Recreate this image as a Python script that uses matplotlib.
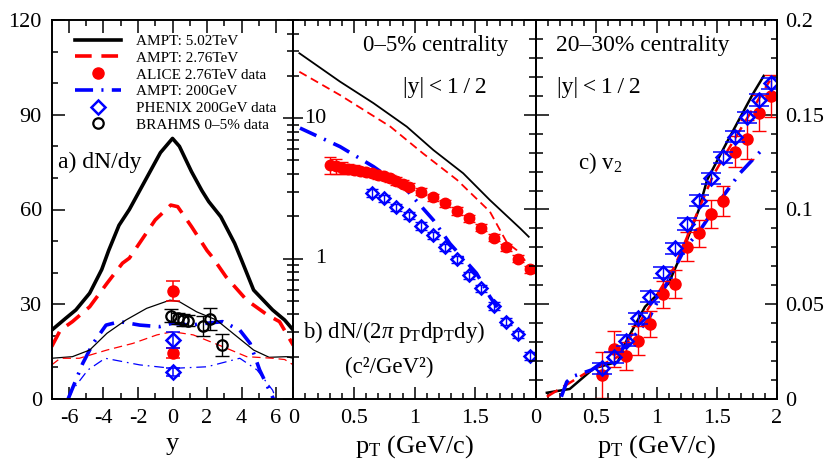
import numpy as np
import matplotlib
matplotlib.use('Agg')
import matplotlib.pyplot as plt
from matplotlib.ticker import MultipleLocator, LogLocator, NullFormatter, FixedLocator
import matplotlib.transforms as mtransforms

plt.rcParams['font.family'] = ['Liberation Serif', 'DejaVu Serif']
plt.rcParams['mathtext.fontset'] = 'custom'
plt.rcParams['mathtext.rm'] = 'Liberation Serif'
plt.rcParams['mathtext.it'] = 'Liberation Serif:italic'
plt.rcParams['lines.scale_dashes'] = False

# ---------------- Panel a: dN/dy vs y ----------------
a_y_502 = [-7, -6.2, -5.6, -4.8, -4.1, -3.7, -3.1, -2.5, -2, -1.5, -0.7, 0, 0.4, 1.1, 1.7, 2.1, 2.8, 3.6, 4, 4.7, 5.8, 6.5, 7]
a_v_502 = [21.8, 25.5, 28.2, 33.5, 41, 47, 55, 60, 65, 70, 78, 82.5, 80, 72, 66, 62.5, 57.7, 49.3, 44, 34.5, 28.2, 25, 21.8]
a_y_276 = [-7, -6.5, -5.8, -4.8, -3.8, -2.9, -2.5, -1, -0.1, 0.3, 1.1, 2, 2.3, 3.1, 4.3, 5.5, 6.2, 7]
a_v_276 = [16.6, 21.8, 24.5, 29.2, 36.6, 43, 44.6, 56.7, 61.4, 60.9, 54.6, 47, 45, 38.7, 31.3, 26.6, 24.5, 17]
a_y_200 = [-6.05, -5.2, -4.6, -3.85, -3.05, -1.9, -0.75, 0, 1, 2.9, 3.9, 4.5, 5.05, 5.85]
a_v_200 = [0, 11.3, 17.6, 23.4, 24.5, 23.4, 22.9, 24, 23.4, 24.5, 21.8, 17.6, 9.2, 0]
a_y_502_thin = [-7, -5.8, -4.8, -3.8, -2.7, -1.5, -0.15, 0.4, 1.4, 2.55, 3.5, 4.7, 5.6, 6.6, 7]
a_v_502_thin = [12.9, 13.4, 15.5, 20.8, 25, 28.7, 31.3, 30.8, 27.6, 25, 20.8, 15.5, 13.2, 13.4, 12.9]
a_y_276_thin = [-7, -6.5, -5.4, -3.8, -2.3, -0.9, 0, 1.2, 2.9, 4.3, 5.8, 6.5, 7]
a_v_276_thin = [10.8, 12.9, 12.9, 15.5, 17.6, 20.3, 21.3, 20.3, 16.6, 13.4, 12.9, 12.5, 10.8]
a_y_200_thin = [-6, -5.8, -4.9, -3.9, -1.9, 0, 2, 3.9, 4.9, 5.8, 6]
a_v_200_thin = [0, 2.8, 9.2, 12.9, 10.8, 9.7, 10.2, 12.9, 9.2, 2.8, 0]
a_alice_y = [0, 0]
a_alice_v = [34.3, 14.5]
a_alice_e = [3.2, 1.5]
a_phenix_y = [0, 0]
a_phenix_v = [18.7, 8.6]
a_phenix_e = [2.6, 1.2]
a_brahms_y = [-0.1, 0.33, 0.62, 0.9, 1.77, 2.2, 2.84]
a_brahms_v = [26.4, 25.5, 25.0, 24.8, 23.1, 25.2, 17.1]
a_brahms_e = [2.0, 1.8, 1.8, 1.8, 3.2, 3.5, 3.5]

# ---------------- Panel b: pT spectra ----------------
b_pt_502 = [0.05, 0.385, 0.66, 0.935, 1.154, 1.40, 1.62, 1.87, 1.94]
b_v_502 = [29, 18.2, 12.8, 8.7, 5.93, 4.05, 2.61, 1.64, 1.43]
b_pt_276 = [0.05, 0.385, 0.80, 1.07, 1.35, 1.62, 1.76, 1.84, 1.95]
b_v_276 = [21.4, 14.6, 8.7, 5.6, 3.63, 2.16, 1.3, 1.15, 0.875]
b_pt_200 = [0.055, 0.385, 0.66, 0.935, 1.154, 1.29, 1.51, 1.62, 1.68]
b_v_200 = [8.5, 6.27, 4.52, 3.08, 1.88, 1.28, 0.785, 0.535, 0.45]
b_alice_pt = [0.30, 0.35, 0.40, 0.45, 0.50, 0.55, 0.60, 0.65, 0.70, 0.75, 0.80, 0.85, 0.90, 0.95,
              1.05, 1.15, 1.25, 1.35, 1.45, 1.55, 1.65, 1.75, 1.85, 1.95]
b_alice_v = [4.65, 4.55, 4.45, 4.35, 4.3, 4.2, 4.12, 4.05, 3.95, 3.85, 3.72, 3.58, 3.42, 3.25,
             3.0, 2.74, 2.48, 2.19, 1.94, 1.66, 1.41, 1.2, 1.0, 0.84]
b_alice_rel = [0.14, 0.12, 0.10, 0.08, 0.07, 0.07, 0.06, 0.06, 0.06, 0.06, 0.06, 0.06, 0.06, 0.06,
               0.06, 0.06, 0.06, 0.06, 0.06, 0.06, 0.06, 0.06, 0.06, 0.06]
b_phenix_pt = [0.65, 0.75, 0.85, 0.95, 1.05, 1.15, 1.25, 1.35, 1.45, 1.55, 1.65, 1.75, 1.85, 1.95]
b_phenix_v = [2.94, 2.69, 2.32, 2.04, 1.71, 1.47, 1.2, 0.99, 0.76, 0.615, 0.46, 0.356, 0.29, 0.203]
b_phenix_rel = 0.06

# ---------------- Panel c: v2 ----------------
c_pt_502 = [0.09, 0.28, 0.48, 0.68, 0.74, 0.905, 1.1, 1.21, 1.35, 1.42, 1.58, 1.80, 1.89]
c_v_502 = [0.0033, 0.0053, 0.0162, 0.0197, 0.0294, 0.0487, 0.061, 0.0769, 0.0997, 0.1156, 0.135, 0.161, 0.1705]
c_pt_276 = [0.09, 0.41, 0.68, 0.905, 1.15, 1.29, 1.47, 1.58, 1.94]
c_v_276 = [0.0012, 0.0136, 0.0223, 0.045, 0.0698, 0.091, 0.118, 0.13, 0.168]
c_pt_200 = [0.21, 0.255, 0.30, 0.46, 0.74, 0.93, 1.1, 1.24, 1.35, 1.53, 1.69, 1.86]
c_v_200 = [0.0012, 0.009, 0.0118, 0.0153, 0.0276, 0.0417, 0.0628, 0.080, 0.088, 0.105, 0.119, 0.1305]
c_alice_pt = [0.55, 0.65, 0.75, 0.85, 0.95, 1.05, 1.15, 1.25, 1.35, 1.45, 1.55, 1.65, 1.75, 1.85, 1.95]
c_alice_v = [0.0127, 0.0262, 0.0227, 0.0308, 0.0396, 0.0552, 0.0607, 0.0804, 0.0874, 0.0976,
             0.1046, 0.1305, 0.137, 0.1507, 0.16]
c_alice_e = [0.012, 0.0095, 0.0075, 0.0075, 0.007, 0.007, 0.0072, 0.0075, 0.007, 0.0075,
             0.008, 0.0083, 0.0104, 0.0095, 0.011]
c_phenix_pt = [0.55, 0.65, 0.75, 0.85, 0.95, 1.05, 1.15, 1.25, 1.35, 1.45, 1.55, 1.65, 1.75, 1.85, 1.95]
c_phenix_v = [0.0162, 0.022, 0.0308, 0.0426, 0.054, 0.0667, 0.0795, 0.0923, 0.1046, 0.1164,
              0.1275, 0.1384, 0.1486, 0.1578, 0.1666]
c_phenix_e = 0.003

# ---------------- Figure ----------------
W, H = 831, 472
fig = plt.figure(figsize=(W / 100, H / 100), dpi=100)

def rect(x0, x1, y0=20, y1=399):
    return [x0 / W, 1 - y1 / H, (x1 - x0) / W, (y1 - y0) / H]

axa = fig.add_axes(rect(51.7, 293.3))
axb = fig.add_axes(rect(293.3, 536))
axc = fig.add_axes(rect(536, 777))
for ax in (axa, axb, axc):
    for s in ax.spines.values():
        s.set_linewidth(1.4)

TICKFS = 16
RED = '#ff0000'
BLUE = '#0000ff'
thick_dash = (0, (12, 7))
thin_dash = (0, (6, 3.5))
thick_dashdot = (0, (13, 6, 1.5, 6))
thin_dashdot = (0, (7, 3.5, 1.2, 3.5))
TS = '\u2009'

# ---- panel a ----
h1, = axa.plot(a_y_502, a_v_502, color='black', lw=2.6, label='AMPT: 5.02TeV')
h2, = axa.plot(a_y_276, a_v_276, color=RED, lw=2.6, ls=thick_dash, label='AMPT: 2.76TeV')
h4, = axa.plot(a_y_200, a_v_200, color=BLUE, lw=2.6, ls=thick_dashdot, label='AMPT: 200GeV')
axa.plot(a_y_502_thin, a_v_502_thin, color='black', lw=0.9)
axa.plot(a_y_276_thin, a_v_276_thin, color=RED, lw=0.9, ls=thin_dash)
axa.plot(a_y_200_thin, a_v_200_thin, color=BLUE, lw=0.9, ls=thin_dashdot)
axa.errorbar(a_alice_y, a_alice_v, yerr=a_alice_e, fmt='none', ecolor=RED, elinewidth=1.1, capsize=5, capthick=1.1)
h3, = axa.plot(a_alice_y, a_alice_v, 'o', color=RED, ms=8, ls='none', label='ALICE 2.76TeV data')
axa.errorbar(a_phenix_y, a_phenix_v, yerr=a_phenix_e, fmt='none', ecolor=BLUE, elinewidth=1.1, capsize=5, capthick=1.1)
h5, = axa.plot(a_phenix_y, a_phenix_v, 'D', mfc='none', mec=BLUE, mew=1.8, ms=7, ls='none', label='PHENIX 200GeV data')
axa.errorbar(a_brahms_y, a_brahms_v, yerr=a_brahms_e, fmt='none', ecolor='black', elinewidth=1.0, capsize=5, capthick=1.0)
h6, = axa.plot(a_brahms_y, a_brahms_v, 'o', mfc='none', mec='black', mew=1.6, ms=7.5, ls='none', label='BRAHMS 0\u20135% data')

axa.set_xlim(-7, 7)
axa.set_ylim(0, 120)
axa.xaxis.set_major_locator(MultipleLocator(2))
axa.xaxis.set_minor_locator(MultipleLocator(1))
axa.yaxis.set_major_locator(MultipleLocator(30))
axa.yaxis.set_minor_locator(MultipleLocator(10))
axa.tick_params(which='both', direction='in', top=True, right=False, labelsize=TICKFS, width=1.1)
axa.tick_params(which='major', length=9)
axa.tick_params(which='minor', length=4.5)
axa.tick_params(axis='y', pad=7)
axa.tick_params(axis='x', pad=7)
axa.xaxis.set_major_formatter(matplotlib.ticker.FuncFormatter(lambda v, p: '%d' % v))
axa.text(0.026, 0.623, 'a) dN/dy', transform=axa.transAxes, fontsize=17, va='center', ha='left')
axa.set_xlabel('y', fontsize=19, labelpad=4)

leg = axa.legend(handles=[h1, h2, h3, h4, h5, h6], loc='upper left', bbox_to_anchor=(0.095, 0.962),
                 frameon=False, fontsize=11, handlelength=3.05, handletextpad=0.95,
                 labelspacing=0.2, borderpad=0, borderaxespad=0, numpoints=1)

# ---- panel b ----
axb.plot(b_pt_502, b_v_502, color='black', lw=1.3)
axb.plot(b_pt_276, b_v_276, color=RED, lw=1.3, ls=thin_dash)
axb.plot(b_pt_200, b_v_200, color=BLUE, lw=2.6, ls=thick_dashdot)
b_alice_err = [v * r for v, r in zip(b_alice_v, b_alice_rel)]
axb.errorbar(b_alice_pt, b_alice_v, yerr=b_alice_err, fmt='none', ecolor=RED, elinewidth=1.0, capsize=4, capthick=1.0)
axb.plot(b_alice_pt, b_alice_v, 'o', color=RED, ms=7.5, ls='none')
b_phenix_err = [v * b_phenix_rel for v in b_phenix_v]
axb.errorbar(b_phenix_pt, b_phenix_v, yerr=b_phenix_err, fmt='none', ecolor=BLUE, elinewidth=1.0, capsize=4, capthick=1.0)
axb.plot(b_phenix_pt, b_phenix_v, 'D', mfc='none', mec=BLUE, mew=1.8, ms=6, ls='none')
axb.set_yscale('log')
axb.set_xlim(0, 2)
axb.set_ylim(0.1, 50)
axb.xaxis.set_major_locator(FixedLocator([0, 0.5, 1, 1.5, 2]))
axb.xaxis.set_minor_locator(MultipleLocator(0.1))
axb.set_xticklabels(['0', '0.5', '1', '1.5', ''])
axb.yaxis.set_major_locator(LogLocator(base=10, numticks=10))
axb.yaxis.set_minor_locator(LogLocator(base=10, subs=np.arange(2, 10), numticks=20))
axb.yaxis.set_major_formatter(NullFormatter())
axb.yaxis.set_minor_formatter(NullFormatter())
axb.tick_params(which='both', axis='x', direction='in', top=True, labelsize=TICKFS, width=1.1, pad=7)
axb.tick_params(which='major', axis='x', length=9)
axb.tick_params(which='minor', axis='x', length=4.5)
axb.tick_params(which='both', axis='y', direction='inout', left=True, right=False, width=1.1)
axb.tick_params(which='major', axis='y', length=14)
axb.tick_params(which='minor', axis='y', length=8)
tb = mtransforms.blended_transform_factory(axb.transAxes, axb.transData)
axb.text(0.045, 10, '10', transform=tb, fontsize=TICKFS, va='center', ha='left')
axb.text(0.09, 1, '1', transform=tb, fontsize=TICKFS, va='center', ha='left')
axb.text(0.287, 0.934, '0\u20135% centrality', transform=axb.transAxes, fontsize=16.5, va='center', ha='left')
axb.text(0.452, 0.823, '|y|' + TS + '<' + TS + '1' + TS + '/' + TS + '2', transform=axb.transAxes,
         fontsize=17, va='center', ha='left')
axb.text(0.04, 0.177, r'b) dN/(2$\pi$ p$_\mathrm{T}$dp$_\mathrm{T}$dy)', transform=axb.transAxes, fontsize=16.5, va='center', ha='left')
axb.text(0.213, 0.082, '(c\u00b2/GeV\u00b2)', transform=axb.transAxes, fontsize=16.5, va='center', ha='left')
axb.set_xlabel(r'p$_\mathrm{T}$ (GeV/c)', fontsize=19, labelpad=4)

# ---- panel c ----
axc.plot(c_pt_502, c_v_502, color='black', lw=1.8)
axc.plot(c_pt_276, c_v_276, color=RED, lw=1.8, ls=(0, (9, 5)))
axc.plot(c_pt_200, c_v_200, color=BLUE, lw=2.6, ls=thick_dashdot)
axc.errorbar(c_alice_pt, c_alice_v, yerr=c_alice_e, fmt='none', ecolor=RED, elinewidth=1.0, capsize=5, capthick=1.0)
axc.plot(c_alice_pt, c_alice_v, 'o', color=RED, ms=8, ls='none')
axc.errorbar(c_phenix_pt, c_phenix_v, yerr=c_phenix_e, fmt='none', ecolor=BLUE, elinewidth=1.0, capsize=7, capthick=1.1)
axc.plot(c_phenix_pt, c_phenix_v, 'D', mfc='none', mec=BLUE, mew=1.8, ms=7, ls='none')
axc.set_xlim(0, 2)
axc.set_ylim(0, 0.2)
axc.xaxis.set_major_locator(MultipleLocator(0.5))
axc.xaxis.set_minor_locator(MultipleLocator(0.1))
axc.xaxis.set_major_formatter(matplotlib.ticker.FuncFormatter(lambda v, p: ('%g' % v)))
axc.yaxis.set_major_locator(MultipleLocator(0.05))
axc.yaxis.set_minor_locator(MultipleLocator(0.01))
axc.yaxis.set_major_formatter(matplotlib.ticker.FuncFormatter(lambda v, p: ('%g' % v)))
axc.tick_params(which='both', axis='x', direction='in', top=True, labelsize=TICKFS, width=1.1, pad=7)
axc.tick_params(which='major', axis='x', length=9)
axc.tick_params(which='minor', axis='x', length=4.5)
axc.tick_params(which='both', axis='y', direction='in', left=False, right=True,
                labelleft=False, labelright=True, labelsize=TICKFS, width=1.1, pad=6)
axc.tick_params(which='major', axis='y', length=9)
axc.tick_params(which='minor', axis='y', length=4.5)
# left side ticks crossing into panel b
axc2 = axc.secondary_yaxis('left')
axc2.yaxis.set_major_locator(MultipleLocator(0.05))
axc2.yaxis.set_minor_locator(MultipleLocator(0.01))
axc2.tick_params(which='both', direction='inout', labelleft=False, width=1.1)
axc2.tick_params(which='major', length=18)
axc2.tick_params(which='minor', length=10)
axc2.spines['left'].set_linewidth(1.4)
axc.text(0.083, 0.934, '20\u201330% centrality', transform=axc.transAxes, fontsize=17, va='center', ha='left')
axc.text(0.087, 0.823, '|y|' + TS + '<' + TS + '1' + TS + '/' + TS + '2', transform=axc.transAxes,
         fontsize=17, va='center', ha='left')
axc.text(0.174, 0.623, r'c) v$_2$', transform=axc.transAxes, fontsize=16.5, va='center', ha='left')
axc.set_xlabel(r'p$_\mathrm{T}$ (GeV/c)', fontsize=19, labelpad=4)

fig.savefig('out.png', dpi=100)
